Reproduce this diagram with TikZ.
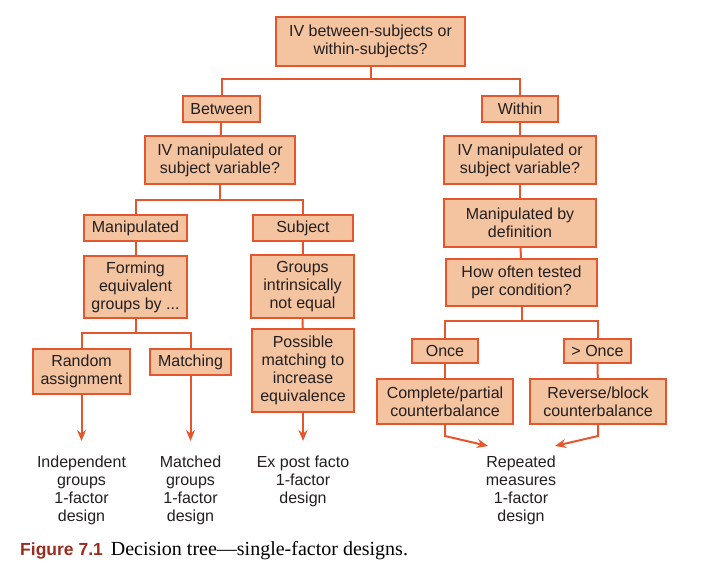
\documentclass[tikz,border=0pt]{standalone}
\usepackage{fontspec}
\setmainfont{Liberation Serif}
\setsansfont{Liberation Sans}
\usepackage{tikz}
\usetikzlibrary{arrows.meta}
\definecolor{treeline}{HTML}{E4572E}
\definecolor{treefill}{HTML}{F4C3A0}
\definecolor{treetext}{HTML}{231F20}
\definecolor{figred}{HTML}{9B2D1F}

\begin{document}
\begin{tikzpicture}[x=1pt, y=-1pt,
    box/.style={rectangle, draw=treeline, line width=2pt, fill=treefill, text=treetext, align=center, inner sep=2pt, font=\sffamily\fontsize{16}{18}\selectfont},
    result/.style={align=center, text=treetext, inner xsep=0pt, inner ysep=15pt, anchor=north, font=\sffamily\fontsize{16}{18}\selectfont},
    link/.style={draw=treeline, line width=2pt},
    arrow/.style={link, -{Stealth[length=11pt, width=9pt]}}]

    \useasboundingbox (0,0) rectangle (711,571);

    % between / within
    \node[box, minimum width=189, minimum height=49] (top) at (370.5,41.5) {IV between-subjects or\\within-subjects?};
    \node[box, minimum width=77, minimum height=26] (between) at (221.5,109) {Between};
    \node[box, minimum width=76, minimum height=26] (within) at (520,109) {Within};
    \node[box, minimum width=150, minimum height=48] (ivl) at (220,160) {IV manipulated or\\subject variable?};
    \node[box, minimum width=152, minimum height=48] (ivr) at (520,160) {IV manipulated or\\subject variable?};

    % left branch
    \node[box, minimum width=103, minimum height=26] (manip) at (135.5,228) {Manipulated};
    \node[box, minimum width=100, minimum height=26] (subj) at (303,228) {Subject};
    \node[box, minimum width=103, minimum height=62] (forming) at (135.5,287) {Forming\\equivalent\\groups by ...};
    \node[box, minimum width=103, minimum height=63] (groups) at (302.5,286.5) {Groups\\intrinsically\\not equal};
    \node[box, minimum width=97, minimum height=45] (random) at (81.5,371.5) {Random\\assignment};
    \node[box, minimum width=81, minimum height=26] (matching) at (190.5,362) {Matching};
    \node[box, minimum width=102, minimum height=83] (possible) at (303,370.5) {Possible\\matching to\\increase\\equivalence};

    % right branch
    \node[box, minimum width=152, minimum height=48] (mandef) at (520,223) {Manipulated by\\definition};
    \node[box, minimum width=151, minimum height=47] (often) at (521.5,282.5) {How often tested\\per condition?};
    \node[box, minimum width=66, minimum height=24] (once) at (445,351) {Once};
    \node[box, minimum width=67, minimum height=24] (moreonce) at (597.5,351) {> Once};
    \node[box, minimum width=136, minimum height=45] (complete) at (445,401.5) {Complete/partial\\counterbalance};
    \node[box, minimum width=136, minimum height=45] (reverse) at (598,401.5) {Reverse/block\\counterbalance};

    % designs
    \node[result] (indep) at (81.5,441) {Independent\\groups\\1-factor\\design};
    \node[result] (matched) at (190.5,441) {Matched\\groups\\1-factor\\design};
    \node[result] (expost) at (303,441) {Ex post facto\\1-factor\\design};
    \node[result] (repeated) at (521,441) {Repeated\\measures\\1-factor\\design};

    \coordinate (j1) at (370.5,79);
    \coordinate (j2) at (220,200);
    \coordinate (j3) at (135.5,333);
    \coordinate (j4) at (521.5,321);
    \coordinate (repl) at (488,446);
    \coordinate (repr) at (555,446);

    \draw[link] (top.south) -- (j1);
    \draw[link] (between.north) |- (j1) -| (within.north);
    \draw[link] (between) -- (ivl);
    \draw[link] (within) -- (ivr);
    \draw[link] (ivl.south) -- (j2);
    \draw[link] (manip.north) |- (j2) -| (subj.north);
    \draw[link] (manip) -- (forming);
    \draw[link] (subj) -- (groups);
    \draw[link] (groups) -- (possible);
    \draw[link] (forming.south) -- (j3);
    \draw[link] (random.north) |- (j3) -| (matching.north);
    \draw[link] (ivr) -- (mandef);
    \draw[link] (mandef) -- (often);
    \draw[link] (often.south) -- (j4);
    \draw[link] (once.north) |- (j4) -| (moreonce.north);
    \draw[link] (once) -- (complete);
    \draw[link] (moreonce) -- (reverse);

    \draw[arrow] (random.south) -- (indep.north);
    \draw[arrow] (matching.south) -- (matched.north);
    \draw[arrow] (possible.south) -- (expost.north);
    \draw[arrow] (complete.south) -- ++(0,11) -- (repl);
    \draw[arrow] (reverse.south) -- ++(0,11) -- (repr);

    \node[anchor=base west, inner sep=0pt] (caption) at (20,555) {{\color{figred}\sffamily\bfseries\fontsize{17.5}{20}\selectfont Figure 7.1}\hspace{8pt}{\rmfamily\fontsize{20}{22}\selectfont Decision tree---single-factor designs.}};

\end{tikzpicture}
\end{document}
